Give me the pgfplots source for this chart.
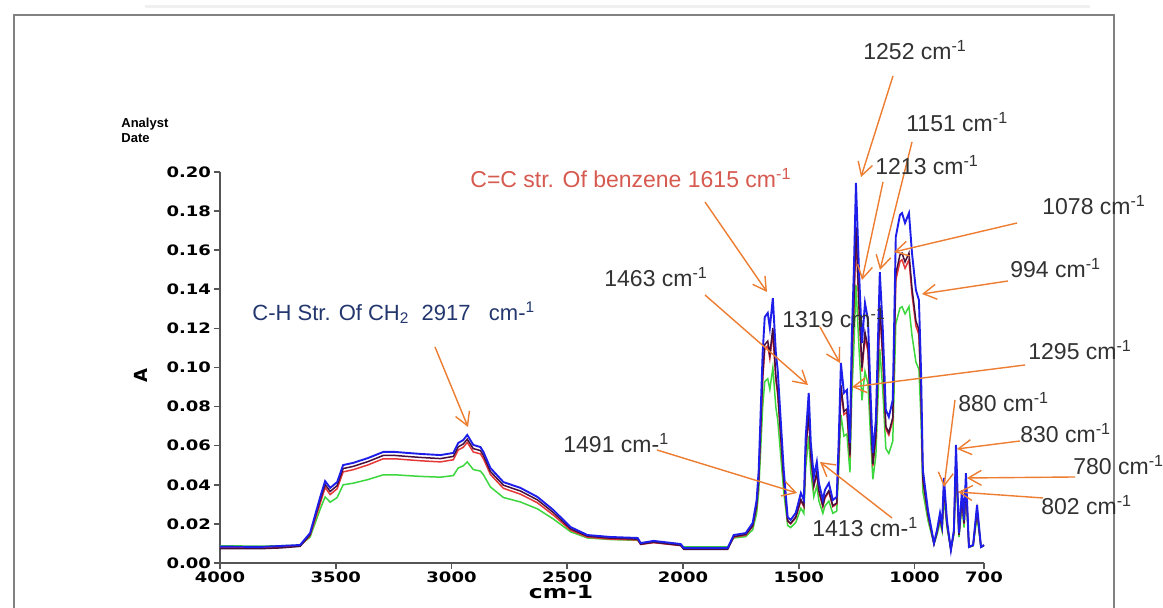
\documentclass[border=0pt]{standalone}
\usepackage{fontspec}
\setmainfont{Liberation Sans}
\newfontfamily\tickfont{DejaVu Sans}
\usepackage{pgfplots}
\usepackage{pgfplotstable}
\pgfplotsset{compat=1.18}
\usetikzlibrary{arrows.meta}

\definecolor{sBlue}{RGB}{30,30,235}
\definecolor{sDark}{RGB}{70,15,60}
\definecolor{sRed}{RGB}{230,55,55}
\definecolor{sGreen}{RGB}{60,215,60}
\definecolor{annOrange}{RGB}{237,125,49}
\definecolor{annText}{RGB}{50,50,50}
\definecolor{annRed}{RGB}{215,90,80}
\definecolor{annNavy}{RGB}{35,55,110}
\definecolor{frameGray}{RGB}{130,130,130}
\definecolor{axisGray}{RGB}{85,85,85}

% wavenumber, absorbance of the four samples (blue, dark, red, green)
\pgfplotstableread{
x     b      d      r      g
4000  0.0084 0.0074 0.0079 0.0088
3827  0.0082 0.0073 0.0078 0.0086
3740  0.0087 0.0077 0.0082 0.0088
3654  0.0092 0.0085 0.0088 0.0090
3611  0.0153 0.0145 0.0140 0.0132
3567  0.0338 0.0322 0.0305 0.0276
3546  0.0419 0.0401 0.0386 0.0338
3524  0.0384 0.0366 0.0350 0.0311
3494  0.0414 0.0396 0.0380 0.0335
3468  0.0501 0.0483 0.0466 0.0400
3425  0.0512 0.0494 0.0477 0.0408
3360  0.0537 0.0519 0.0502 0.0427
3295  0.0568 0.0550 0.0533 0.0451
3243  0.0568 0.0550 0.0533 0.0451
3191  0.0563 0.0545 0.0528 0.0447
3135  0.0558 0.0540 0.0523 0.0443
3048  0.0552 0.0534 0.0517 0.0439
2992  0.0563 0.0545 0.0528 0.0447
2971  0.0614 0.0594 0.0578 0.0486
2949  0.0629 0.0609 0.0592 0.0497
2932  0.0655 0.0633 0.0617 0.0517
2906  0.0604 0.0585 0.0568 0.0478
2875  0.0593 0.0575 0.0558 0.0470
2862  0.0568 0.0550 0.0533 0.0451
2832  0.0486 0.0468 0.0453 0.0389
2776  0.0414 0.0398 0.0382 0.0335
2702  0.0384 0.0368 0.0352 0.0312
2629  0.0338 0.0323 0.0308 0.0277
2560  0.0271 0.0258 0.0245 0.0225
2486  0.0184 0.0175 0.0168 0.0160
2413  0.0143 0.0137 0.0132 0.0128
2313  0.0133 0.0127 0.0122 0.0120
2196  0.0128 0.0122 0.0118 0.0116
2183  0.0102 0.0096 0.0095 0.0100
2127  0.0113 0.0106 0.0104 0.0108
2010  0.0097 0.0090 0.0089 0.0095
1997  0.0077 0.0070 0.0074 0.0082
1807  0.0077 0.0070 0.0074 0.0082
1781  0.0143 0.0135 0.0132 0.0128
1729  0.0153 0.0146 0.0142 0.0135
1699  0.0205 0.0190 0.0187 0.0170
1682  0.0322 0.0293 0.0288 0.0254
1673  0.0476 0.0428 0.0421 0.0365
1656  0.1074 0.0955 0.0935 0.0796
1647  0.1258 0.1117 0.1093 0.0928
1634  0.1279 0.1135 0.1111 0.0943
1625  0.1202 0.1067 0.1045 0.0888
1612  0.1355 0.1202 0.1177 0.0998
1599  0.1074 0.0955 0.0935 0.0796
1591  0.0987 0.0878 0.0860 0.0733
1578  0.0731 0.0653 0.0640 0.0549
1565  0.0476 0.0428 0.0421 0.0365
1548  0.0235 0.0216 0.0213 0.0192
1535  0.0220 0.0203 0.0200 0.0181
1513  0.0256 0.0235 0.0231 0.0207
1491  0.0358 0.0325 0.0319 0.0280
1478  0.0322 0.0293 0.0288 0.0254
1470  0.0645 0.0577 0.0566 0.0487
1457  0.0870 0.0775 0.0759 0.0649
1448  0.0614 0.0550 0.0539 0.0464
1435  0.0440 0.0397 0.0390 0.0339
1422  0.0517 0.0465 0.0456 0.0395
1413  0.0409 0.0370 0.0363 0.0317
1396  0.0322 0.0293 0.0288 0.0254
1387  0.0373 0.0338 0.0332 0.0291
1370  0.0409 0.0370 0.0363 0.0317
1353  0.0322 0.0293 0.0288 0.0254
1336  0.0338 0.0307 0.0302 0.0266
1327  0.0645 0.0577 0.0566 0.0487
1318  0.1023 0.0910 0.0891 0.0759
1305  0.0870 0.0775 0.0759 0.0649
1292  0.0885 0.0788 0.0772 0.0660
1279  0.0614 0.0550 0.0539 0.0464
1271  0.1156 0.1027 0.1005 0.0855
1262  0.1499 0.1329 0.1300 0.1102
1253  0.1944 0.1720 0.1683 0.1422
1240  0.1499 0.1329 0.1300 0.1102
1227  0.1125 0.1000 0.0979 0.0832
1214  0.1330 0.1180 0.1155 0.0980
1201  0.1243 0.1103 0.1080 0.0917
1189  0.0834 0.0744 0.0728 0.0623
1180  0.0563 0.0505 0.0495 0.0428
1167  0.0731 0.0653 0.0640 0.0549
1150  0.1488 0.1319 0.1291 0.1094
1137  0.1192 0.1059 0.1036 0.0881
1124  0.0783 0.0699 0.0685 0.0586
1111  0.0747 0.0667 0.0654 0.0560
1094  0.0834 0.0744 0.0728 0.0623
1081  0.1668 0.1477 0.1446 0.1223
1063  0.1780 0.1576 0.1542 0.1304
1054  0.1790 0.1585 0.1551 0.1311
1041  0.1739 0.1540 0.1507 0.1274
1024  0.1790 0.1585 0.1551 0.1311
1011  0.1586 0.1405 0.1375 0.1164
994   0.1396 0.1238 0.1212 0.1028
981   0.1345 0.1193 0.1168 0.0991
972   0.0987 0.0878 0.0860 0.0733
964   0.0476 0.0428 0.0421 0.0365
942   0.0271 0.0248 0.0244 0.0218
916   0.0102 0.0099 0.0099 0.0096
903   0.0169 0.0158 0.0157 0.0144
890   0.0256 0.0235 0.0231 0.0207
881   0.0194 0.0180 0.0178 0.0162
873   0.0435 0.0392 0.0385 0.0336
860   0.0220 0.0203 0.0200 0.0181
843   0.0066 0.0068 0.0068 0.0070
830   0.0169 0.0158 0.0157 0.0144
821   0.0604 0.0541 0.0531 0.0457
808   0.0153 0.0144 0.0143 0.0133
795   0.0373 0.0338 0.0332 0.0291
786   0.0220 0.0203 0.0200 0.0181
778   0.0460 0.0414 0.0407 0.0354
765   0.0082 0.0082 0.0082 0.0081
747   0.0092 0.0090 0.0090 0.0088
730   0.0297 0.0271 0.0267 0.0236
713   0.0082 0.0082 0.0082 0.0081
700   0.0092 0.0090 0.0090 0.0088
}\spectra

\begin{document}
\begin{tikzpicture}
\clip (0,0) rectangle (581.5pt,304pt);
\fill[white] (0,0) rectangle (581.5pt,304pt);
\begin{axis}[
  at={(110pt,22.5pt)}, anchor=south west,
  scale only axis, width=382pt, height=195.5pt,
  x dir=reverse, xmin=700, xmax=4000, ymin=0, ymax=0.2,
  axis x line*=bottom, axis y line*=left,
  axis line style={axisGray, line width=1pt},
  every tick/.style={axisGray, line width=0.8pt},
  tick align=outside, major tick length=3pt,
  xtick={4000,3500,3000,2500,2000,1500,1000,700},
  ytick={0,0.02,0.04,0.06,0.08,0.10,0.12,0.14,0.16,0.18,0.20},
  scaled y ticks=false,
  ticklabel style={font=\tickfont\bfseries\fontsize{7.2}{8}\selectfont, xscale=1.25, inner sep=1pt},
  xticklabel style={/pgf/number format/1000 sep={}, /pgf/number format/assume math mode=true},
  yticklabel style={/pgf/number format/.cd, fixed, fixed zerofill, precision=2, assume math mode=true},
  clip=false]
\addplot[sGreen, line width=0.75pt] table[x=x, y=g]{\spectra};
\addplot[sRed, line width=0.75pt] table[x=x, y=r]{\spectra};
\addplot[sDark, line width=0.75pt] table[x=x, y=d]{\spectra};
\addplot[sBlue, line width=0.95pt] table[x=x, y=b]{\spectra};
\end{axis}

% annotations in image pixel coordinates
\begin{scope}[x=0.5pt, y=-0.5pt, yshift=304pt,
  arr/.style={annOrange, line width=0.7pt, -{Straight Barb[length=6.5pt, width=7.5pt]}},
  lab/.style={anchor=west, inner sep=0pt, text=annText, font=\fontsize{11.5}{13}\selectfont}]
\draw[frameGray, line width=1pt] (14,640) -- (14,15) -- (1114,15) -- (1114,640);
\draw[gray!12, line width=1.5pt] (145,7) -- (1090,7);

\node[anchor=west, inner sep=0pt, font=\bfseries\fontsize{6.5}{7.5}\selectfont, align=left]
  at (121,130) {Analyst\\Date};
\node[rotate=90, font=\tickfont\bfseries\fontsize{9}{10}\selectfont] at (141,376) {A};
\node[font=\tickfont\bfseries\fontsize{9}{10}\selectfont, xscale=1.3] at (561,592) {cm-1};

\node[lab] at (863,50) {1252 cm\textsuperscript{-1}};
\draw[arr] (893,76) -- (861,177);
\node[lab] at (906,122) {1151 cm\textsuperscript{-1}};
\draw[arr] (912,142) -- (880,270);
\node[lab] at (875,165) {1213 cm\textsuperscript{-1}};
\draw[arr] (883,182) -- (862,280);
\node[lab] at (1042,205) {1078 cm\textsuperscript{-1}};
\draw[arr] (1017,223) -- (894,252);
\node[lab] at (1010,268) {994 cm\textsuperscript{-1}};
\draw[arr] (1008,281) -- (922,294);
\node[lab, text=annRed] at (470,178) {C=C str. Of benzene 1615 cm\textsuperscript{-1}};
\draw[arr] (705,202) -- (767,292);
\node[lab] at (604,277) {1463 cm\textsuperscript{-1}};
\draw[arr] (705,295) -- (808,385);
\node[lab] at (782,318) {1319 cm\textsuperscript{-1}};
\draw[arr] (820,327) -- (840,363);
\node[lab] at (1028,350) {1295 cm\textsuperscript{-1}};
\draw[arr] (1025,365) -- (852,387);
\node[lab] at (958,402) {880 cm\textsuperscript{-1}};
\draw[arr] (955,400) -- (944,487);
\node[lab] at (1020,433) {830 cm\textsuperscript{-1}};
\draw[arr] (1020,441) -- (957,449);
\node[lab] at (1073,465) {780 cm\textsuperscript{-1}};
\draw[arr] (1075,477) -- (967,478);
\node[lab] at (1041,505) {802 cm\textsuperscript{-1}};
\draw[arr] (1043,498) -- (958,492);
\node[lab] at (563,443) {1491 cm-\textsuperscript{1}};
\draw[arr] (657,450) -- (797,493);
\node[lab] at (812,527) {1413 cm-\textsuperscript{1}};
\draw[arr] (892,518) -- (820,462);
\node[lab, text=annNavy, font=\fontsize{11}{13}\selectfont] at (252,313)
  {C-H Str. Of CH\textsubscript{2}\ \ 2917\ \ \ cm-\textsuperscript{1}};
\draw[arr] (435,347) -- (468,427);
\end{scope}
\end{tikzpicture}
\end{document}
